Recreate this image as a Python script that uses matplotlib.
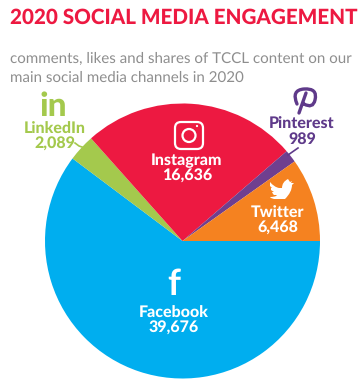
import matplotlib
matplotlib.use("Agg")
import matplotlib.pyplot as plt
from matplotlib.patches import FancyBboxPatch, Circle, PathPatch
from matplotlib.path import Path

plt.rcParams['font.family'] = ['Lato', 'DejaVu Sans']
plt.rcParams['text.hinting'] = 'no_hinting'

channels = ["Facebook", "LinkedIn", "Instagram", "Pinterest", "Twitter"]
engagement = [39676, 2089, 16636, 989, 6468]
colors = ["#00AEEF", "#A4C94D", "#ED1941", "#6F3F8F", "#F58220"]
label_colors = ["white", "#A4C94D", "white", "#5F3A8A", "white"]
label_pos = [(174, 320.5), (55, 136.5), (187, 168.5), (302, 132), (278, 221)]

fig = plt.figure(figsize=(3.6, 3.91), dpi=100)
ax = fig.add_axes([0, 0, 1, 1])

# y axis points down below, so angles run clockwise from the right
ax.pie(engagement, colors=colors, startangle=0, radius=137.5, center=(182.5, 241))
ax.set_xlim(0, 360)
ax.set_ylim(391, 0)
ax.axis("off")

# title size jumps in width above 15pt, so stay just under it
ax.text(10, 18, "2020 SOCIAL MEDIA ENGAGEMENT", color="#ED1941", fontsize=14.9,
        fontweight="black", va="center", ha="left")
ax.text(10, 59, "comments, likes and shares of TCCL content on our", color="#8E8E8E",
        fontsize=10.9, va="center", ha="left")
ax.text(10, 78, "main social media channels in 2020", color="#8E8E8E",
        fontsize=10.9, va="center", ha="left")

for name, val, c, pos in zip(channels, engagement, label_colors, label_pos):
    ax.text(pos[0], pos[1], f"{name}\n{val:,}", color=c, fontsize=11.5, fontweight="black",
            ha="center", va="center", linespacing=1.02)

# leader lines
ax.plot([288, 298], [155, 148], color="#5F3A8A", lw=1.2)
ax.plot([75, 79, 82], [143, 146, 147], color="#A4C94D", lw=1.2)

# icons
ax.text(174, 285, "f", color="white", fontsize=26, fontweight="bold", ha="center", va="center")
ax.text(53, 106, "in", color="#A4C94D", fontsize=24, fontweight="black", ha="center", va="center")

ax.add_patch(FancyBboxPatch((180, 127), 18, 17, boxstyle="round,pad=5,rounding_size=6",
                            fc="none", ec="white", lw=1.6))
ax.add_patch(Circle((189, 135.5), 6.5, fc="none", ec="white", lw=1.6))
ax.add_patch(Circle((197, 126), 1.1, fc="white", ec="none"))

bird = Path(
    [(270, 182), (274, 187), (279, 188), (282, 188), (282, 182), (288, 179), (290, 182),
     (292, 181), (291, 183), (294, 183), (292, 185), (292, 192), (285, 199), (278, 199),
     (274, 199), (271, 198), (270, 197), (274, 197), (276, 196), (277, 195),
     (274, 195), (273, 194), (272, 192), (274, 192), (271, 190), (271, 188), (272, 188),
     (270, 186), (270, 184), (270, 182)],
    [Path.MOVETO, Path.CURVE3, Path.CURVE3, Path.LINETO, Path.CURVE3, Path.CURVE3, Path.LINETO,
     Path.LINETO, Path.LINETO, Path.LINETO, Path.LINETO, Path.CURVE3, Path.CURVE3, Path.CURVE3,
     Path.CURVE3, Path.LINETO, Path.LINETO, Path.CURVE3, Path.CURVE3, Path.LINETO,
     Path.LINETO, Path.LINETO, Path.LINETO, Path.LINETO, Path.LINETO, Path.LINETO, Path.LINETO,
     Path.LINETO, Path.LINETO, Path.CLOSEPOLY])
ax.add_patch(PathPatch(bird, fc="white", ec="none"))

pin = Path(
    [(297, 104), (291, 90), (304, 89), (318, 88), (315, 100), (313, 109), (304, 104),
     (306, 93), (299, 113)],
    [Path.MOVETO, Path.CURVE3, Path.CURVE3, Path.CURVE3, Path.CURVE3, Path.CURVE3, Path.CURVE3,
     Path.MOVETO, Path.LINETO])
ax.add_patch(PathPatch(pin, fc="none", ec="#5F3A8A", lw=2.4, capstyle="round"))

fig.savefig("out.png", dpi=100)
